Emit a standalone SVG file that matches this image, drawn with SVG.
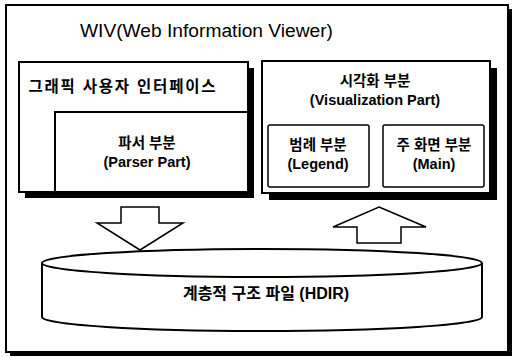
<svg xmlns="http://www.w3.org/2000/svg" width="513" height="357" viewBox="0 0 513 357">
<style>
.ln{fill:#fff;stroke:#000;stroke-width:2}
.thin{fill:#fff;stroke:#000;stroke-width:1.5}
.sh{fill:#000;stroke:none}
.t{font-family:"Liberation Sans","Noto Sans CJK KR",sans-serif;font-weight:bold;font-size:14.5px;fill:#000;text-anchor:middle}
.title{font-family:"Liberation Sans","Noto Sans CJK KR",sans-serif;font-size:18px;fill:#000}
</style>
<rect width="513" height="357" fill="#fff"/>
<g id="frame">
<rect class="sh" x="10" y="9" width="502" height="347"/>
<rect class="ln" x="6" y="5" width="502" height="347"/>
<text class="title" x="80" y="37" textLength="253" lengthAdjust="spacingAndGlyphs">WIV(Web Information Viewer)</text>
</g>
<g id="gui">
<rect class="sh" x="25" y="68" width="229" height="130"/>
<rect class="ln" x="19" y="62" width="229" height="130"/>
<text class="t" x="122" y="92" style="font-size:15.5px" textLength="187" lengthAdjust="spacing">그래픽 사용자 인터페이스</text>
</g>
<g id="parser">
<rect class="ln" x="55" y="112" width="193" height="80"/>
<text class="t" x="147" y="148">파서 부분</text>
<text class="t" x="147" y="167">(Parser Part)</text>
</g>
<g id="vis">
<rect class="sh" x="269" y="68" width="228" height="132"/>
<rect class="ln" x="262" y="61" width="228" height="132"/>
<text class="t" x="375" y="86">시각화 부분</text>
<text class="t" x="375" y="105">(Visualization Part)</text>
</g>
<g id="legend">
<rect class="thin" x="268" y="125" width="101" height="62" rx="2"/>
<text class="t" x="318" y="150">범례 부분</text>
<text class="t" x="318" y="169">(Legend)</text>
</g>
<g id="main">
<rect class="thin" x="383" y="125" width="101" height="62" rx="2"/>
<text class="t" x="434" y="150">주 화면 부분</text>
<text class="t" x="434" y="169">(Main)</text>
</g>
<g id="hdir">
<path class="ln" d="M42,263 L42,317 A220,14 0 0 0 482,317 L482,263"/>
<ellipse class="ln" cx="262" cy="263" rx="220" ry="14"/>
<text class="t" x="266" y="299" style="font-size:16px">계층적 구조 파일 (HDIR)</text>
</g>
<g id="connectors">
<polygon class="thin" points="121,207 159,207 159,223 183,223 140,250 97,223 121,223"/>
<polygon class="thin" points="379,207 426,227 401,227 401,243 357,243 357,227 333,227"/>
</g>
</svg>
